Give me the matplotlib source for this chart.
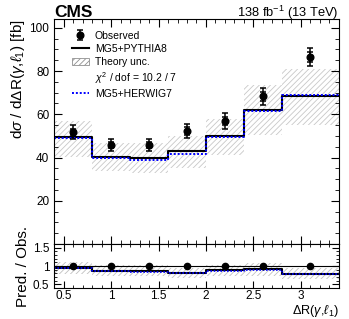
import numpy as np
import matplotlib
matplotlib.use("Agg")
import matplotlib.pyplot as plt
from matplotlib.lines import Line2D
from matplotlib.patches import Patch
from matplotlib.ticker import MultipleLocator, FuncFormatter

plt.rcParams['font.family'] = ['Liberation Sans', 'DejaVu Sans']
plt.rcParams['mathtext.fontset'] = 'custom'
plt.rcParams['mathtext.rm'] = 'Liberation Sans'
plt.rcParams['mathtext.it'] = 'Liberation Sans:italic'
plt.rcParams['hatch.linewidth'] = 0.6

# bin edges in dR(gamma, l1)
edges = np.array([0.4, 0.8, 1.2, 1.6, 2.0, 2.4, 2.8, 3.4])
centers = [0.6, 1.0, 1.4, 1.8, 2.2, 2.6, 3.1]

obs = np.array([51.8, 45.8, 45.8, 52.3, 56.8, 68.3, 86.5])
obs_stat = np.array([1.6, 1.6, 1.6, 1.7, 1.8, 2.0, 2.3])
obs_tot = np.array([3.2, 3.0, 3.0, 3.3, 3.6, 3.9, 4.2])

pythia = np.array([49.3, 40.2, 39.8, 42.8, 50.1, 62.0, 68.4])
herwig = np.array([49.2, 39.6, 38.9, 41.8, 49.6, 61.7, 68.8])
unc_hi = np.array([57.0, 46.8, 46.8, 49.9, 58.0, 73.4, 81.0])
unc_lo = np.array([40.3, 33.9, 32.9, 35.1, 41.4, 50.5, 55.0])

chi2_text = r'$\chi^{2}$ / dof = 10.2 / 7'


def step(y):
    return np.append(y, y[-1])


fig = plt.figure(figsize=(3.49, 3.19), dpi=100)
ax = fig.add_axes([0.155, 0.235, 0.816, 0.705])
rax = fig.add_axes([0.155, 0.097, 0.816, 0.138], sharex=ax)

# main panel
ax.fill_between(edges, step(unc_lo), step(unc_hi), step='post', facecolor='none',
                edgecolor='#c8c8c8', hatch='//////', linewidth=0)
ax.step(edges, step(pythia), where='post', color='black', lw=1.5)
ax.step(edges, step(herwig), where='post', color='blue', lw=1.4, ls=(0, (1, 1)))
ax.errorbar(centers, obs, yerr=obs_tot, fmt='none', ecolor='black', elinewidth=1.1,
            capsize=2.3, capthick=1.1)
data_h = ax.errorbar(centers, obs, yerr=obs_stat, fmt='o', color='black', ms=4.8,
                     elinewidth=1.1, capsize=2.3, capthick=1.1)

ax.set_xlim(0.4, 3.4)
ax.set_ylim(0, 104)
ax.set_yticks([20, 40, 60, 80, 100])
ax.yaxis.set_minor_locator(MultipleLocator(5))
ax.xaxis.set_major_locator(MultipleLocator(0.5))
ax.xaxis.set_minor_locator(MultipleLocator(0.1))
ax.tick_params(which='both', direction='in', top=True, right=True, labelsize=8.5,
               labelbottom=False)
ax.tick_params(which='major', length=6)
ax.tick_params(which='minor', length=3)
ax.set_ylabel(r'd$\sigma$ / d$\Delta$R($\gamma$,$\ell_1$) [fb]', fontsize=11,
              loc='top', labelpad=2)

handles = [
    data_h,
    Line2D([], [], color='black', lw=1.5),
    Patch(facecolor='white', edgecolor='#909090', hatch='//////', lw=0.6),
    Line2D([], [], color='none'),
    Line2D([], [], color='blue', lw=1.4, ls=(0, (1, 1))),
]
labels = ['Observed', 'MG5+PYTHIA8', 'Theory unc.', chi2_text, 'MG5+HERWIG7']
ax.legend(handles, labels, loc='upper left', bbox_to_anchor=(0.03, 0.99), frameon=False,
          fontsize=7.5, handlelength=1.6, handletextpad=0.6, labelspacing=0.3)

fig.text(0.155, 0.947, 'CMS', fontsize=12.5, fontweight='bold', ha='left', va='baseline')
fig.text(0.971, 0.947, r'138 fb$^{-1}$ (13 TeV)', fontsize=9.3, ha='right', va='baseline')

# ratio panel
rax.fill_between(edges, step(unc_lo / obs), step(unc_hi / obs), step='post',
                 facecolor='none', edgecolor='#c0c0c0', hatch='//////', linewidth=0)
rax.axhline(1, color='black', lw=0.8)
rax.step(edges, step(pythia / obs), where='post', color='black', lw=1.5)
rax.step(edges, step(herwig / obs), where='post', color='blue', lw=1.2, ls=(0, (1, 1)))
rax.plot(centers, np.ones(len(centers)), 'o', color='black', ms=4.5)

rax.set_ylim(0.4, 1.6)
rax.set_yticks([0.5, 1, 1.5])
rax.yaxis.set_major_formatter(FuncFormatter(lambda v, p: '%g' % v))
rax.yaxis.set_minor_locator(MultipleLocator(0.1))
rax.tick_params(which='both', direction='in', top=True, right=True, labelsize=8.5)
rax.tick_params(which='major', length=5)
rax.tick_params(which='minor', length=2.5)
rax.tick_params(axis='x', pad=1.5)
rax.set_xticks([0.5, 1, 1.5, 2, 2.5, 3])
rax.xaxis.set_major_formatter(FuncFormatter(lambda v, p: '%g' % v))
rax.set_xlim(0.4, 3.4)
rax.set_ylabel('Pred. / Obs.', fontsize=11, labelpad=2)
rax.set_xlabel(r'$\Delta$R($\gamma$,$\ell_1$)', fontsize=9.2, ha='right')
rax.xaxis.set_label_coords(1.0, -0.34)

fig.savefig('out.png', dpi=100)
